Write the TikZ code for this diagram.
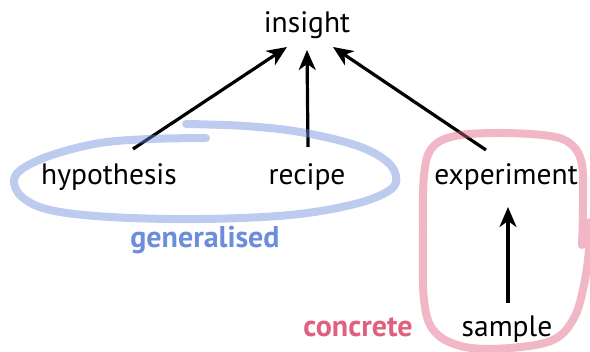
\documentclass[tikz,border=0pt]{standalone}
\usepackage{fontspec}
\setmainfont{PT Sans}
\usetikzlibrary{arrows.meta,calc}
\definecolor{genblue}{RGB}{108,140,220}
\definecolor{conpink}{RGB}{224,96,128}
\begin{document}
\begin{tikzpicture}[x=1pt,y=-1pt,
  word/.style={anchor=base,inner sep=0pt,font=\fontsize{29.5}{34}\selectfont},
  tag/.style={anchor=base,inner sep=0pt,font=\fontsize{30}{34}\selectfont\bfseries},
  arr/.style={line width=3.2pt,-{Stealth[length=20pt,width=17pt,inset=6pt]}},
  loop/.style={line width=8pt,line cap=round,line join=round,opacity=0.45}]
\useasboundingbox (0,0) rectangle (590,352);

% terms
\node[word] (ins) at (307,33) {insight};
\node[word] (hyp) at (109,185) {hypothesis};
\node[word] (rec) at (307,185) {recipe};
\node[word] (exp) at (506,185) {experiment};
\node[word] (sam) at (507,337) {sample};

% group labels
\node[tag,text=genblue] (gen) at (205,248) {generalised};
\node[tag,text=conpink] (con) at (358,337) {concrete};

% arrows towards insight
\draw[arr] ($(hyp.base)+(24,-36)$) -- ($(ins.base)+(-20,14)$);
\draw[arr] ($(rec.base)+(1,-38)$) -- ($(ins.base)+(0,17)$);
\draw[arr] ($(exp.base)+(-20,-35)$) -- ($(ins.base)+(26,14)$);
\draw[arr] ($(sam.base)+(1,-34)$) -- ($(exp.base)+(2,22)$);

% hand-drawn loop around the general terms
\draw[loop,genblue] plot[smooth,tension=0.6] coordinates {
  (206,138) (150,139) (100,143) (55,154) (25,167) (14,180) (22,197)
  (50,210) (110,217) (200,219) (290,215) (355,204) (390,190) (396,176)
  (385,160) (355,145) (300,132) (245,126) (186,124)};

% hand-drawn loop around the concrete terms
\draw[loop,conpink] plot[smooth,tension=0.6] coordinates {
  (582,245) (583,205) (582,165) (572,145) (550,136) (500,133) (455,136)
  (432,148) (424,175) (423,230) (424,300) (435,332) (465,347) (510,348)
  (553,340) (574,318) (584,285) (589,250) (590,222)};
\end{tikzpicture}
\end{document}
